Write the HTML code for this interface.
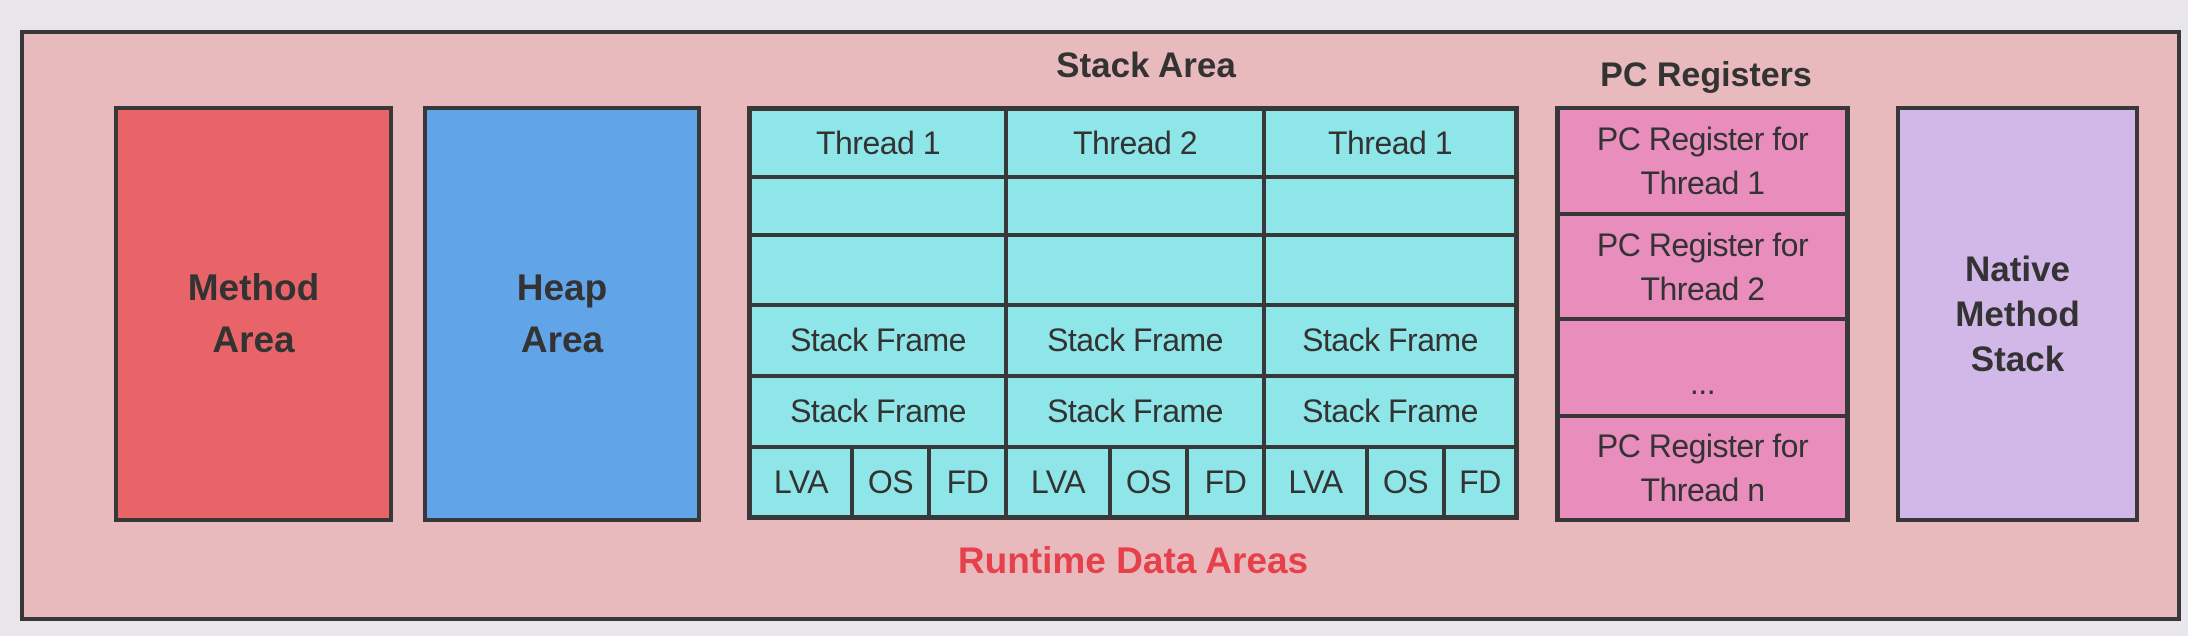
<!DOCTYPE html>
<html><head><meta charset="utf-8"><style>
body{margin:0;width:2188px;height:636px;background:#e8e6eb;position:relative;overflow:hidden;font-family:"Liberation Sans",sans-serif;color:#333}
.b{position:absolute;box-sizing:border-box;border:4px solid #383838}
.t{position:absolute;text-align:center;white-space:nowrap}
.c{position:absolute;box-sizing:border-box;border:3px solid #383838;background:#8ee6e8;display:flex;align-items:center;justify-content:center;font-size:32px;color:#333;letter-spacing:-0.5px}
.p{position:absolute;box-sizing:border-box;border:3px solid #383838;background:#e98dbd;display:flex;align-items:center;justify-content:center;text-align:center;font-size:32px;line-height:44px;color:#333;letter-spacing:-0.5px}
.bold{font-weight:bold;font-size:37px;line-height:52px}
</style></head><body>
<div class="b" style="left:20px;top:30px;width:2161px;height:591px;background:#e8babd"></div>
<div class="b" style="left:114px;top:106px;width:279px;height:416px;background:#e96468;display:flex;align-items:center;justify-content:center;text-align:center"><span class="bold">Method<br>Area</span></div>
<div class="b" style="left:423px;top:106px;width:278px;height:416px;background:#62a4e8;display:flex;align-items:center;justify-content:center;text-align:center"><span class="bold">Heap<br>Area</span></div>
<div class="t" style="left:761px;width:770px;top:46px;font-size:35px;font-weight:bold">Stack Area</div>
<div class="b" style="left:747px;top:106px;width:772px;height:414px;background:#8ee6e8"></div>
<div class="c" style="left:749px;top:108px;width:258px;height:70px">Thread 1</div>
<div class="c" style="left:1005px;top:108px;width:260px;height:70px">Thread 2</div>
<div class="c" style="left:1263px;top:108px;width:254px;height:70px">Thread 1</div>
<div class="c" style="left:749px;top:176px;width:258px;height:60px"></div>
<div class="c" style="left:1005px;top:176px;width:260px;height:60px"></div>
<div class="c" style="left:1263px;top:176px;width:254px;height:60px"></div>
<div class="c" style="left:749px;top:234px;width:258px;height:72px"></div>
<div class="c" style="left:1005px;top:234px;width:260px;height:72px"></div>
<div class="c" style="left:1263px;top:234px;width:254px;height:72px"></div>
<div class="c" style="left:749px;top:304px;width:258px;height:73px">Stack Frame</div>
<div class="c" style="left:1005px;top:304px;width:260px;height:73px">Stack Frame</div>
<div class="c" style="left:1263px;top:304px;width:254px;height:73px">Stack Frame</div>
<div class="c" style="left:749px;top:375px;width:258px;height:73px">Stack Frame</div>
<div class="c" style="left:1005px;top:375px;width:260px;height:73px">Stack Frame</div>
<div class="c" style="left:1263px;top:375px;width:254px;height:73px">Stack Frame</div>
<div class="c" style="left:749px;top:446px;width:104px;height:72px">LVA</div>
<div class="c" style="left:851px;top:446px;width:79px;height:72px">OS</div>
<div class="c" style="left:928px;top:446px;width:79px;height:72px">FD</div>
<div class="c" style="left:1005px;top:446px;width:106px;height:72px">LVA</div>
<div class="c" style="left:1109px;top:446px;width:79px;height:72px">OS</div>
<div class="c" style="left:1186px;top:446px;width:79px;height:72px">FD</div>
<div class="c" style="left:1263px;top:446px;width:105px;height:72px">LVA</div>
<div class="c" style="left:1366px;top:446px;width:79px;height:72px">OS</div>
<div class="c" style="left:1443px;top:446px;width:74px;height:72px">FD</div>
<div class="b" style="left:747px;top:106px;width:772px;height:414px;background:transparent"></div>
<div class="t" style="left:748px;width:770px;top:540px;font-size:37px;font-weight:bold;color:#e6414b">Runtime Data Areas</div>
<div class="t" style="left:1560px;width:292px;top:56px;font-size:34px;font-weight:bold">PC Registers</div>
<div class="p" style="left:1557px;top:107px;width:291px;height:108px">PC Register for<br>Thread 1</div>
<div class="p" style="left:1557px;top:213px;width:291px;height:107px">PC Register for<br>Thread 2</div>
<div class="p" style="left:1557px;top:318px;width:291px;height:99px;padding-top:30px">...</div>
<div class="p" style="left:1557px;top:415px;width:291px;height:106px">PC Register for<br>Thread n</div>
<div class="b" style="left:1555px;top:106px;width:295px;height:416px;background:transparent"></div>
<div class="b" style="left:1896px;top:106px;width:243px;height:416px;background:#d2b8e8;display:flex;align-items:center;justify-content:center;text-align:center"><span style="font-weight:bold;font-size:35px;line-height:45px">Native<br>Method<br>Stack</span></div>
</body></html>
